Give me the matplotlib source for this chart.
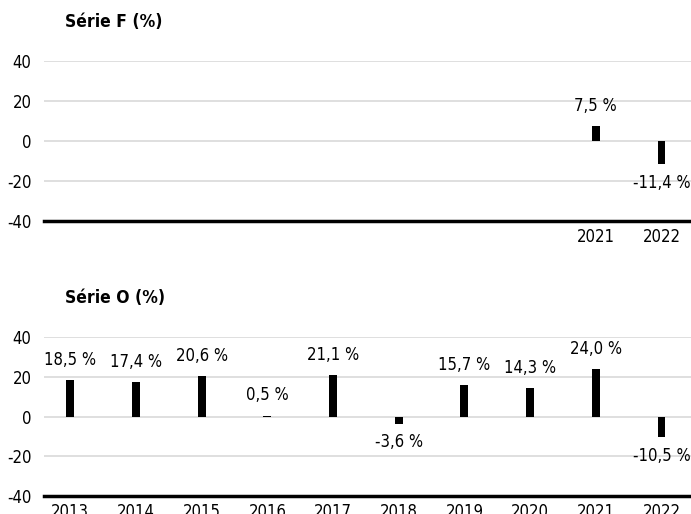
import matplotlib
matplotlib.use("Agg")
import matplotlib.pyplot as plt

plt.rcParams['font.family'] = ['DejaVu Sans']
plt.rcParams['font.stretch'] = 'condensed'

years = ['2013', '2014', '2015', '2016', '2017', '2018', '2019', '2020', '2021', '2022']
serie_f = [None, None, None, None, None, None, None, None, 7.5, -11.4]
serie_o = [18.5, 17.4, 20.6, 0.5, 21.1, -3.6, 15.7, 14.3, 24.0, -10.5]
yticks = [-40, -20, 0, 20, 40]


def fmt(v):
    return ('%.1f %%' % v).replace('.', ',')


def draw_panel(ax, values, title, title_y, show_years):
    xs = [i for i, v in enumerate(values) if v is not None]
    vs = [v for v in values if v is not None]
    ax.bar(xs, vs, width=0.12, color='black', zorder=3)
    for x, v in zip(xs, vs):
        if v >= 0:
            ax.annotate(fmt(v), (x, v), xytext=(0, 8), textcoords='offset points',
                        ha='center', va='bottom', fontsize=12)
        else:
            ax.annotate(fmt(v), (x, v), xytext=(0, -7), textcoords='offset points',
                        ha='center', va='top', fontsize=12)
    ax.set_ylim(-40, 40)
    ax.set_xlim(-0.4, 9.45)
    ax.set_yticks(yticks)
    ax.set_yticklabels([str(t) for t in yticks], fontsize=12)
    ax.set_xticks([i for i in range(len(years)) if show_years[i]])
    ax.set_xticklabels([y for i, y in enumerate(years) if show_years[i]], fontsize=12)
    ax.tick_params(length=0, axis='both')
    ax.tick_params(axis='y', pad=9)
    ax.tick_params(axis='x', pad=5)
    for t in [0, 20, 40, -20]:
        ax.axhline(t, color='#d9d9d9', lw=1.2, zorder=1)
    for s in ['top', 'right', 'left']:
        ax.spines[s].set_visible(False)
    ax.spines['bottom'].set_linewidth(2.5)
    ax.spines['bottom'].set_color('black')
    fig.text(0.094, title_y, title, fontsize=12.5, fontweight='bold', va='center')


fig = plt.figure(figsize=(6.91, 5.14), dpi=100)
ax1 = fig.add_axes([0.0637, 0.570, 0.9363, 0.311])
ax2 = fig.add_axes([0.0637, 0.035, 0.9363, 0.309])

draw_panel(ax1, serie_f, 'Série F (%)', 0.957, [v is not None for v in serie_f])
draw_panel(ax2, serie_o, 'Série O (%)', 0.420, [True] * len(years))

fig.savefig('out.png', dpi=100)
